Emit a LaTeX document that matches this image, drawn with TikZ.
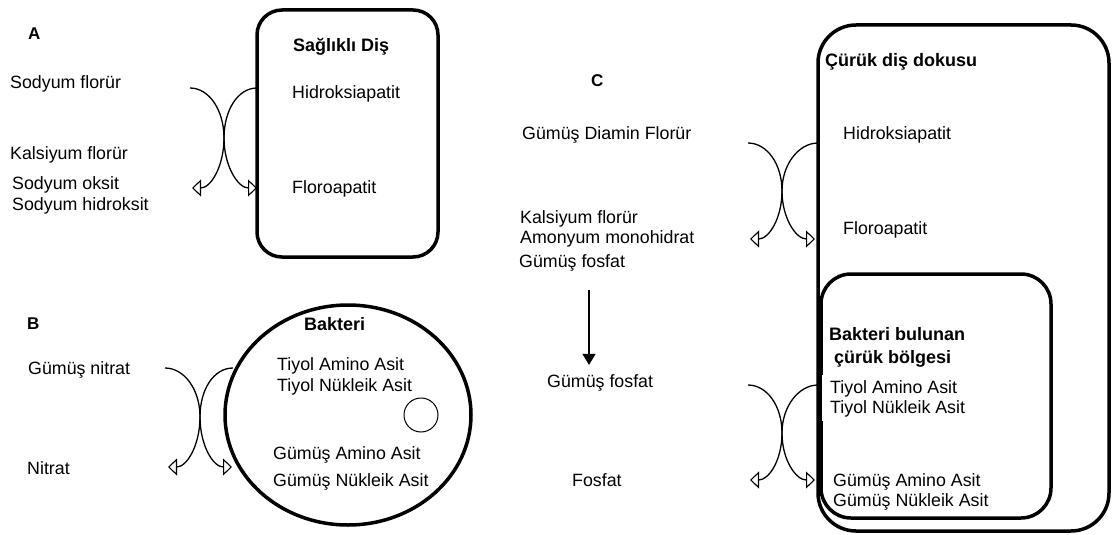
\documentclass[tikz,border=0pt]{standalone}
\usepackage{fontspec}
\setmainfont{Liberation Sans}
\usetikzlibrary{arrows.meta,shapes.geometric}
\tikzset{
  yazi/.style={anchor=west, inner sep=0pt, text height=12.8pt, text depth=0pt, font=\fontsize{17.8}{21}\selectfont},
  baslik/.style={yazi, font=\fontsize{18}{21}\selectfont\bfseries},
  harf/.style={yazi, font=\fontsize{17}{20}\selectfont\bfseries},
  kutu/.style={draw, line width=3.5pt, inner sep=0pt},
  egri/.style={line width=1.3pt, -{Triangle[open, length=9pt, width=17pt, line width=1.1pt]}},
}
\begin{document}
\begin{tikzpicture}[x=1pt, y=-1pt]
	\useasboundingbox (0,0) rectangle (1112,535);
	% kutular
	\node[kutu, rounded corners=25pt, minimum width=181pt, minimum height=247pt] (saglam) at (347.5,133.5) {};
	\node[kutu, ellipse, minimum width=246pt, minimum height=220pt] (bakteri) at (348,415) {};
	\node[draw, circle, line width=1pt, minimum size=34pt, inner sep=0pt] (hucre) at (421,415) {};
	\node[kutu, rounded corners=38pt, minimum width=291pt, minimum height=506pt] (curuk) at (963.5,278) {};
	\node[kutu, rounded corners=30pt, minimum width=230pt, minimum height=244pt] (bolge) at (936,396) {};
	% A
	\node[harf] (A) at (28,33) {A};
	\node[baslik] (sagdis) at (293,45) {Sağlıklı Diş};
	\node[yazi] (hidA) at (292,92) {Hidroksiapatit};
	\node[yazi] (floA) at (292,187) {Floroapatit};
	\node[yazi] (sodflo) at (10,82) {Sodyum florür};
	\node[yazi] (kalA) at (10,153) {Kalsiyum florür};
	\node[yazi] (sodoks) at (12,183) {Sodyum oksit};
	\node[yazi] (sodhid) at (12,204) {Sodyum hidroksit};
	\coordinate (a1) at (190,88); \coordinate (a2) at (257,88);
	\coordinate (ax) at (224,138);
	\coordinate (a3) at (192,188); \coordinate (a4) at (257,188);
	\draw[egri] (a1) .. controls +(19,0) and +(0,-28) .. (ax) .. controls +(0,28) and +(19,0) .. (a3);
	\draw[egri] (a2) .. controls +(-19,0) and +(0,-28) .. (ax) .. controls +(0,28) and +(-19,0) .. (a4);
	% B
	\node[harf] (B) at (27,323) {B};
	\node[baslik] (bak) at (304,324) {Bakteri};
	\node[yazi] (tiyamB) at (277,364) {Tiyol Amino Asit};
	\node[yazi] (tiynuB) at (277,385) {Tiyol Nükleik Asit};
	\node[yazi] (gumamB) at (273,453) {Gümüş Amino Asit};
	\node[yazi] (gumnuB) at (273,480) {Gümüş Nükleik Asit};
	\node[yazi] (gumnit) at (28,368) {Gümüş nitrat};
	\node[yazi] (nitrat) at (27,468) {Nitrat};
	\coordinate (b1) at (165,368); \coordinate (b2) at (233,368);
	\coordinate (bx) at (200,417);
	\coordinate (b3) at (168,467); \coordinate (b4) at (232,467);
	\draw[egri] (b1) .. controls +(19,0) and +(0,-28) .. (bx) .. controls +(0,28) and +(19,0) .. (b3);
	\draw[egri] (b2) .. controls +(-19,0) and +(0,-28) .. (bx) .. controls +(0,28) and +(-19,0) .. (b4);
	% C
	\node[harf] (C) at (591,80) {C};
	\node[baslik] (curdis) at (825,60) {Çürük diş dokusu};
	\node[yazi] (hidC) at (843,133) {Hidroksiapatit};
	\node[yazi] (floC) at (843,228) {Floroapatit};
	\node[yazi] (gdf) at (522,133) {Gümüş Diamin Florür};
	\node[yazi] (kalC) at (520,217) {Kalsiyum florür};
	\node[yazi] (amon) at (520,237) {Amonyum monohidrat};
	\node[yazi] (gfos1) at (519,261) {Gümüş fosfat};
	\node[yazi] (gfos2) at (547,381) {Gümüş fosfat};
	\node[yazi] (fosfat) at (572,480) {Fosfat};
	\node[baslik] (bakbul) at (829,334) {Bakteri bulunan};
	\node[baslik] (curbol) at (834,357) {çürük bölgesi};
	\node[yazi, fill=white, inner xsep=8pt, inner ysep=7.5pt] (tiynuC) at (822,407) {Tiyol Nükleik Asit};
	\node[yazi, fill=white, inner xsep=8pt, inner ysep=6pt] (tiyamC) at (822,387) {Tiyol Amino Asit};
	\node[yazi] (gumamC) at (833,480) {Gümüş Amino Asit};
	\node[yazi] (gumnuC) at (833,500) {Gümüş Nükleik Asit};
	\coordinate (ok1) at (589,290);
	\draw[line width=1.2pt, -{Triangle[length=11pt, width=13pt]}, shorten >=9.5pt] (ok1) -- (ok1 |- gfos2.north);
	\coordinate (c1) at (748,143); \coordinate (c2) at (818,143);
	\coordinate (cx) at (782,191);
	\coordinate (c3) at (750,239); \coordinate (c4) at (815,239);
	\draw[egri] (c1) .. controls +(19,0) and +(0,-27) .. (cx) .. controls +(0,27) and +(19,0) .. (c3);
	\draw[egri] (c2) .. controls +(-19,0) and +(0,-27) .. (cx) .. controls +(0,27) and +(-19,0) .. (c4);
	\coordinate (d1) at (748,385); \coordinate (d2) at (818,385);
	\coordinate (dx) at (782,433);
	\coordinate (d3) at (750,480); \coordinate (d4) at (815,480);
	\draw[egri] (d1) .. controls +(19,0) and +(0,-27) .. (dx) .. controls +(0,27) and +(19,0) .. (d3);
	\draw[egri] (d2) .. controls +(-19,0) and +(0,-27) .. (dx) .. controls +(0,27) and +(-19,0) .. (d4);
\end{tikzpicture}
\end{document}
